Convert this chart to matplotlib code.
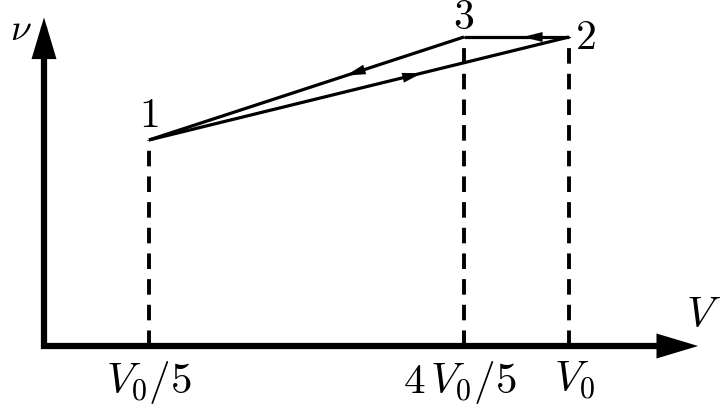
import matplotlib
matplotlib.use("Agg")
import matplotlib.pyplot as plt

plt.rcParams['mathtext.fontset'] = 'cm'
plt.rcParams['font.family'] = 'serif'
plt.rcParams['font.serif'] = ['DejaVu Serif']

# cycle points, V in units of V0, nu in arbitrary units
V = [0.2, 1.0, 0.8]
nu = [2.0, 3.0, 3.0]
tick_pos = [0.2, 0.8, 1.0]
tick_labels = [r'$V_0/5$', r'$4\,V_0/5$', r'$V_0$']
# where the direction arrows sit along each leg (fraction)
arrow_frac = {(0, 1): 0.65, (1, 2): 0.44, (2, 0): 0.375}

fig = plt.figure(figsize=(7.23, 4.09), dpi=100)
ax = fig.add_axes([0, 0, 1, 1])
ax.set_xlim(-44 / 525, (723 - 44) / 525)
ax.set_ylim(-63 / 103, 346 / 103)
ax.axis('off')

# axes with arrows
head = dict(arrowstyle='-|>,head_length=3.0,head_width=0.9', lw=0,
            color='k', shrinkA=0, shrinkB=0)
ax.plot([-0.006, 1.18], [0, 0], color='k', lw=4.5, solid_capstyle='butt')
ax.plot([0, 0], [-0.03, 3.1], color='k', lw=4.5, solid_capstyle='butt')
ax.annotate('', xy=(1.246, 0), xytext=(1.1, 0), arrowprops=head)
ax.annotate('', xy=(0, 3.19), xytext=(0, 2.9), arrowprops=head)

# dashed guides
for v, n in zip(V, nu):
    ax.plot([v, v], [0, n], color='k', lw=2.8, ls=(0, (4, 2.6)))

# cycle legs
for (i, j), f in arrow_frac.items():
    ax.plot([V[i], V[j]], [nu[i], nu[j]], color='k', lw=2.3,
            solid_capstyle='butt')
    x0, y0 = V[i], nu[i]
    x1, y1 = V[j], nu[j]
    mx, my = x0 + f * (x1 - x0), y0 + f * (y1 - y0)
    dx, dy = (x1 - x0) * 0.02, (y1 - y0) * 0.02
    ax.annotate('', xy=(mx, my), xytext=(mx - dx, my - dy),
                arrowprops=dict(arrowstyle='-|>,head_length=1.0,head_width=0.25',
                                lw=0.1, color='k', mutation_scale=14,
                                shrinkA=0, shrinkB=0))

fs = 30
ax.text(V[0], nu[0] + 0.04, r'$1$', fontsize=fs, ha='center', va='bottom')
ax.text(V[1] + 0.011, nu[1], r'$2$', fontsize=fs, ha='left', va='center')
ax.text(V[2], nu[2] - 0.01, r'$3$', fontsize=fs, ha='center', va='bottom')
ax.text(-0.044, 3.07, r'$\nu$', fontsize=27, ha='center', va='center')
ax.text(1.256, 0.3, r'$V$', fontsize=31, ha='center', va='center')

for p, t in zip(tick_pos, tick_labels):
    xoff = -0.008 if p == 0.8 else (0.01 if p == 1.0 else 0.0)
    ax.text(p + xoff, -0.13, t, fontsize=31, ha='center', va='top')

fig.savefig('out.png', dpi=100)
